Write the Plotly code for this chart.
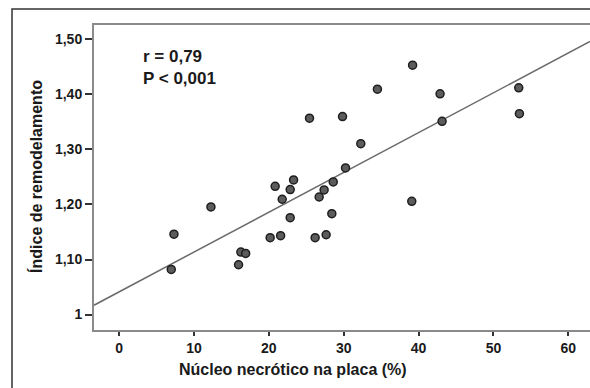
import plotly.graph_objects as go

# Data
necrotic_core = [6.96, 7.32, 12.26, 15.95, 16.26, 16.9, 20.17, 20.84, 21.57, 21.78,
                 22.85, 22.85, 23.3, 25.43, 26.18, 26.72, 27.38, 27.65, 28.41, 28.6,
                 29.84, 30.24, 32.28, 34.5, 39.09, 39.2, 42.87, 43.14, 53.38, 53.47]
remodel_index = [1.082, 1.146, 1.1955, 1.0905, 1.1136, 1.111, 1.1396, 1.233, 1.1433, 1.2095,
                 1.227, 1.176, 1.2445, 1.3567, 1.1396, 1.2136, 1.2264, 1.145, 1.1833, 1.241,
                 1.3597, 1.2664, 1.3105, 1.4095, 1.2058, 1.453, 1.401, 1.351, 1.4118, 1.365]

# Regression line
line_intercept = 1.0413
line_slope = 0.00723

x_ticks = [0, 10, 20, 30, 40, 50, 60]
x_tick_labels = ["<b>0</b>", "<b>10</b>", "<b>20</b>", "<b>30</b>", "<b>40</b>", "<b>50</b>", "<b>60</b>"]
y_ticks = [1.0, 1.1, 1.2, 1.3, 1.4, 1.5]
y_tick_labels = ["<b>1</b>", "<b>1,10</b>", "<b>1,20</b>", "<b>1,30</b>", "<b>1,40</b>", "<b>1,50</b>"]

x_range = [-3.36, 62.9]
y_range = [0.972, 1.526]

FONT = "Liberation Sans, Arial, sans-serif"
INK = "#1a1a1a"

fig = go.Figure()

line_x = x_range
line_y = [line_intercept + line_slope * v for v in line_x]
fig.add_trace(go.Scatter(x=line_x, y=line_y, mode="lines",
                         line=dict(color="#6a6a6a", width=1.5),
                         hoverinfo="skip", showlegend=False, cliponaxis=True))

fig.add_trace(go.Scatter(x=necrotic_core, y=remodel_index, mode="markers",
                         marker=dict(size=8, color="#5c5c5c",
                                     line=dict(color="#1e1e1e", width=1.5)),
                         showlegend=False))

fig.update_layout(
    width=590, height=388,
    margin=dict(l=94, r=0, t=25, b=58),
    paper_bgcolor="white", plot_bgcolor="white",
    font=dict(family=FONT, color=INK),
    xaxis=dict(range=x_range, tickvals=x_ticks, ticktext=x_tick_labels,
               showgrid=False, zeroline=False,
               showline=True, linecolor="#8a8a8a", linewidth=2, mirror=True,
               ticks="outside", ticklen=4, tickwidth=1.5, tickcolor="#333",
               tickfont=dict(size=14, family=FONT, color=INK)),
    yaxis=dict(range=y_range, tickvals=y_ticks, ticktext=y_tick_labels,
               showgrid=False, zeroline=False,
               showline=True, linecolor="#8a8a8a", linewidth=2,
               ticks="outside", ticklen=7, tickwidth=1.5, tickcolor="#333",
               tickfont=dict(size=14, family=FONT, color=INK)),
    shapes=[dict(type="rect", xref="paper", yref="paper",
                 x0=-0.1653, x1=1.2, y0=-0.4, y1=1.0525,
                 line=dict(color="#333", width=1.5), fillcolor="rgba(0,0,0,0)",
                 layer="below")],
    annotations=[
        dict(text="<b>Núcleo necrótico na placa (%)</b>", xref="paper", yref="paper",
             x=0.402, y=-0.131, showarrow=False, xanchor="center", yanchor="middle",
             font=dict(size=16, family=FONT, color=INK)),
        dict(text="<b>Índice de remodelamento</b>", xref="paper", yref="paper",
             x=-0.117, y=0.505, showarrow=False, xanchor="center", yanchor="middle",
             textangle=-90,
             font=dict(size=16, family=FONT, color=INK)),
        dict(text="<b>r = 0,79</b><br><b>P < 0,001</b>", xref="paper", yref="paper",
             x=0.0948, y=0.934, showarrow=False, xanchor="left", yanchor="top",
             align="left",
             font=dict(size=17, family=FONT, color=INK)),
    ],
)

fig.write_html("out.html", config={"displayModeBar": False},
               post_script="document.body.style.margin='0';document.body.style.overflow='hidden';")
